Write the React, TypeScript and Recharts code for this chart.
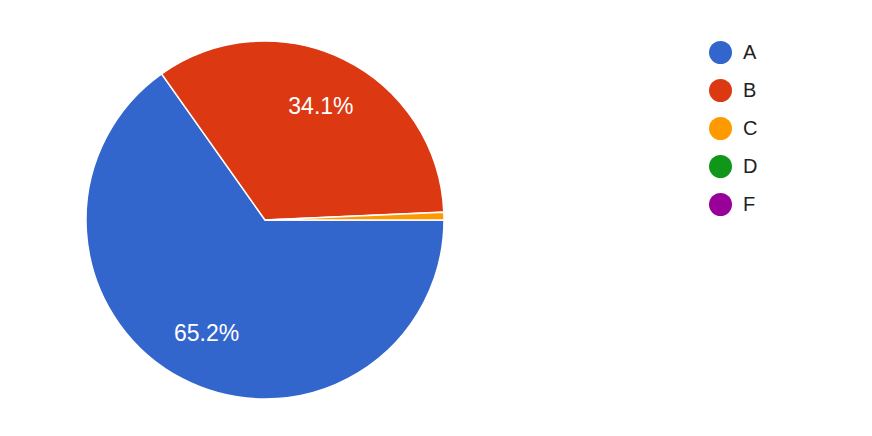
import React from 'react';
import { PieChart, Pie, Cell, Legend } from 'recharts';

const categories = ['A', 'B', 'C', 'D', 'F'];
const shares = [65.2, 34.1, 0.7, 0, 0];
const colors = ['#3366cc', '#dc3912', '#ff9900', '#109618', '#990099'];

const data = categories.map((name, i) => ({ name, value: shares[i], color: colors[i] }));
const pieData = data.filter((d) => d.value > 0);

const RADIAN = Math.PI / 180;

const renderLabel = (props: any) => {
  const { cx, cy, midAngle, outerRadius, percent } = props;
  if (percent < 0.05) return null;
  const r = outerRadius * 0.71;
  const x = cx + r * Math.cos(-midAngle * RADIAN);
  const y = cy + r * Math.sin(-midAngle * RADIAN);
  return (
    <text
      x={x}
      y={y}
      fill="#ffffff"
      textAnchor="middle"
      dominantBaseline="central"
      fontSize={23}
      fontFamily="Arial, 'Liberation Sans', sans-serif"
    >
      {`${(percent * 100).toFixed(1)}%`}
    </text>
  );
};

const LegendContent = () => (
  <div>
    {data.map((d) => (
      <div key={d.name} style={{ display: 'flex', alignItems: 'center', height: 38 }}>
        <span
          style={{
            width: 23,
            height: 23,
            borderRadius: '50%',
            background: d.color,
            display: 'inline-block',
            marginRight: 11,
          }}
        />
        <span style={{ fontSize: 20, color: '#222', fontFamily: "Arial, 'Liberation Sans', sans-serif" }}>
          {d.name}
        </span>
      </div>
    ))}
  </div>
);

export default function App() {
  return (
    <div style={{ position: 'absolute', left: 0, top: 0, background: '#fff' }}>
      <PieChart width={872} height={436} margin={{ top: 0, right: 0, bottom: 0, left: 0 }}>
        <Pie
          data={pieData}
          dataKey="value"
          nameKey="name"
          cx={265}
          cy={220}
          outerRadius={179}
          startAngle={0}
          endAngle={-360}
          stroke="#ffffff"
          strokeWidth={1.5}
          label={renderLabel}
          labelLine={false}
          isAnimationActive={false}
        >
          {pieData.map((d) => (
            <Cell key={d.name} fill={d.color} />
          ))}
        </Pie>
        <Legend
          content={<LegendContent />}
          wrapperStyle={{ position: 'absolute', left: 709, top: 33, width: 120 }}
        />
      </PieChart>
    </div>
  );
}
